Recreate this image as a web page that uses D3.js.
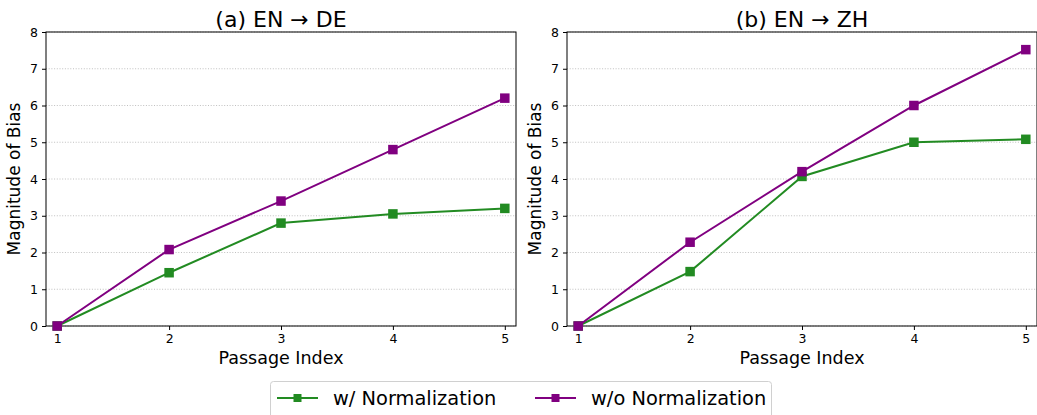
<!DOCTYPE html>
<html><head><meta charset="utf-8">
<script src="https://cdn.jsdelivr.net/npm/d3@7"></script>
<style>body{margin:0;background:#fff}svg{display:block;font-family:"DejaVu Sans",sans-serif}</style>
</head><body>
<svg id="c" width="1037" height="415"></svg>
<script>
const passages = [1, 2, 3, 4, 5];
const yTicks = [0, 1, 2, 3, 4, 5, 6, 7, 8];
const titles = ["(a) EN \u2192 DE", "(b) EN \u2192 ZH"];
const seriesNames = ["w/ Normalization", "w/o Normalization"];
const seriesColors = ["#228B22", "#800080"];
const deWith = [0, 1.45, 2.8, 3.05, 3.2];
const deWithout = [0, 2.08, 3.4, 4.8, 6.2];
const zhWith = [0, 1.48, 4.07, 5.0, 5.08];
const zhWithout = [0, 2.28, 4.2, 6.0, 7.52];
const panels = [[deWith, deWithout], [zhWith, zhWithout]];

(function () {
const svg = d3.select("#c");
const plotTop = 32, plotBottom = 326;
const lefts = [46, 567], width = 470;
const ms = 9.5;

panels.forEach((series, pi) => {
  const x0 = lefts[pi];
  const x = d3.scaleLinear().domain([0.9, 5.1]).range([x0, x0 + width]);
  const y = d3.scaleLinear().domain([0, 8]).range([plotBottom, plotTop]);
  const g = svg.append("g");
  g.selectAll(".grid").data(yTicks).join("line")
    .attr("x1", x0).attr("x2", x0 + width)
    .attr("y1", d => y(d)).attr("y2", d => y(d))
    .attr("stroke", "#b0b0b0").attr("stroke-width", 0.8).attr("stroke-dasharray", "1,1.7");
  const xa = g.append("g").attr("transform", `translate(0,${plotBottom})`)
    .call(d3.axisBottom(x).tickValues(passages).tickSize(4).tickPadding(4).tickFormat(d3.format("d")));
  const ya = g.append("g").attr("transform", `translate(${x0},0)`)
    .call(d3.axisLeft(y).tickValues(yTicks).tickSize(4).tickPadding(4).tickFormat(d3.format("d")));
  [xa, ya].forEach(a => {
    a.select(".domain").remove();
    a.selectAll("text").attr("font-size", 12.5).attr("font-family", "DejaVu Sans").attr("fill", "#000");
    a.selectAll("line").attr("stroke", "#000");
  });
  g.append("rect").attr("x", x0).attr("y", plotTop).attr("width", width).attr("height", plotBottom - plotTop)
    .attr("fill", "none").attr("stroke", "#000").attr("stroke-width", 1);
  series.forEach((vals, si) => {
    const pts = passages.map((p, i) => [p, vals[i]]);
    g.append("path").datum(pts)
      .attr("d", d3.line().x(d => x(d[0])).y(d => y(d[1])))
      .attr("fill", "none").attr("stroke", seriesColors[si]).attr("stroke-width", 2);
    g.selectAll(".m" + si).data(pts).join("rect")
      .attr("x", d => x(d[0]) - ms / 2).attr("y", d => y(d[1]) - ms / 2)
      .attr("width", ms).attr("height", ms).attr("fill", seriesColors[si]);
  });
  g.append("text").attr("x", x0 + width / 2).attr("y", 26.5).attr("text-anchor", "middle")
    .attr("font-size", 22).text(titles[pi]);
  g.append("text").attr("x", x0 + width / 2).attr("y", 364).attr("text-anchor", "middle")
    .attr("font-size", 17.5).text("Passage Index");
  g.append("text").attr("transform", `translate(${x0 - 26},${(plotTop + plotBottom) / 2}) rotate(-90)`)
    .attr("text-anchor", "middle").attr("font-size", 17).text("Magnitude of Bias");
});

const lg = svg.append("g");
lg.append("rect").attr("x", 270.5).attr("y", 381.5).attr("width", 501).attr("height", 40).attr("rx", 3)
  .attr("fill", "#fff").attr("stroke", "#d0d0d0").attr("stroke-width", 1);
const lx = [277, 535];
seriesNames.forEach((n, i) => {
  lg.append("line").attr("x1", lx[i]).attr("x2", lx[i] + 41).attr("y1", 398).attr("y2", 398)
    .attr("stroke", seriesColors[i]).attr("stroke-width", 2);
  lg.append("rect").attr("x", lx[i] + 20.5 - 4).attr("y", 398 - 4).attr("width", 8).attr("height", 8)
    .attr("fill", seriesColors[i]);
  lg.append("text").attr("x", lx[i] + 56).attr("y", 405).attr("font-size", 19.4).text(n);
});
})();
</script>
</body></html>
